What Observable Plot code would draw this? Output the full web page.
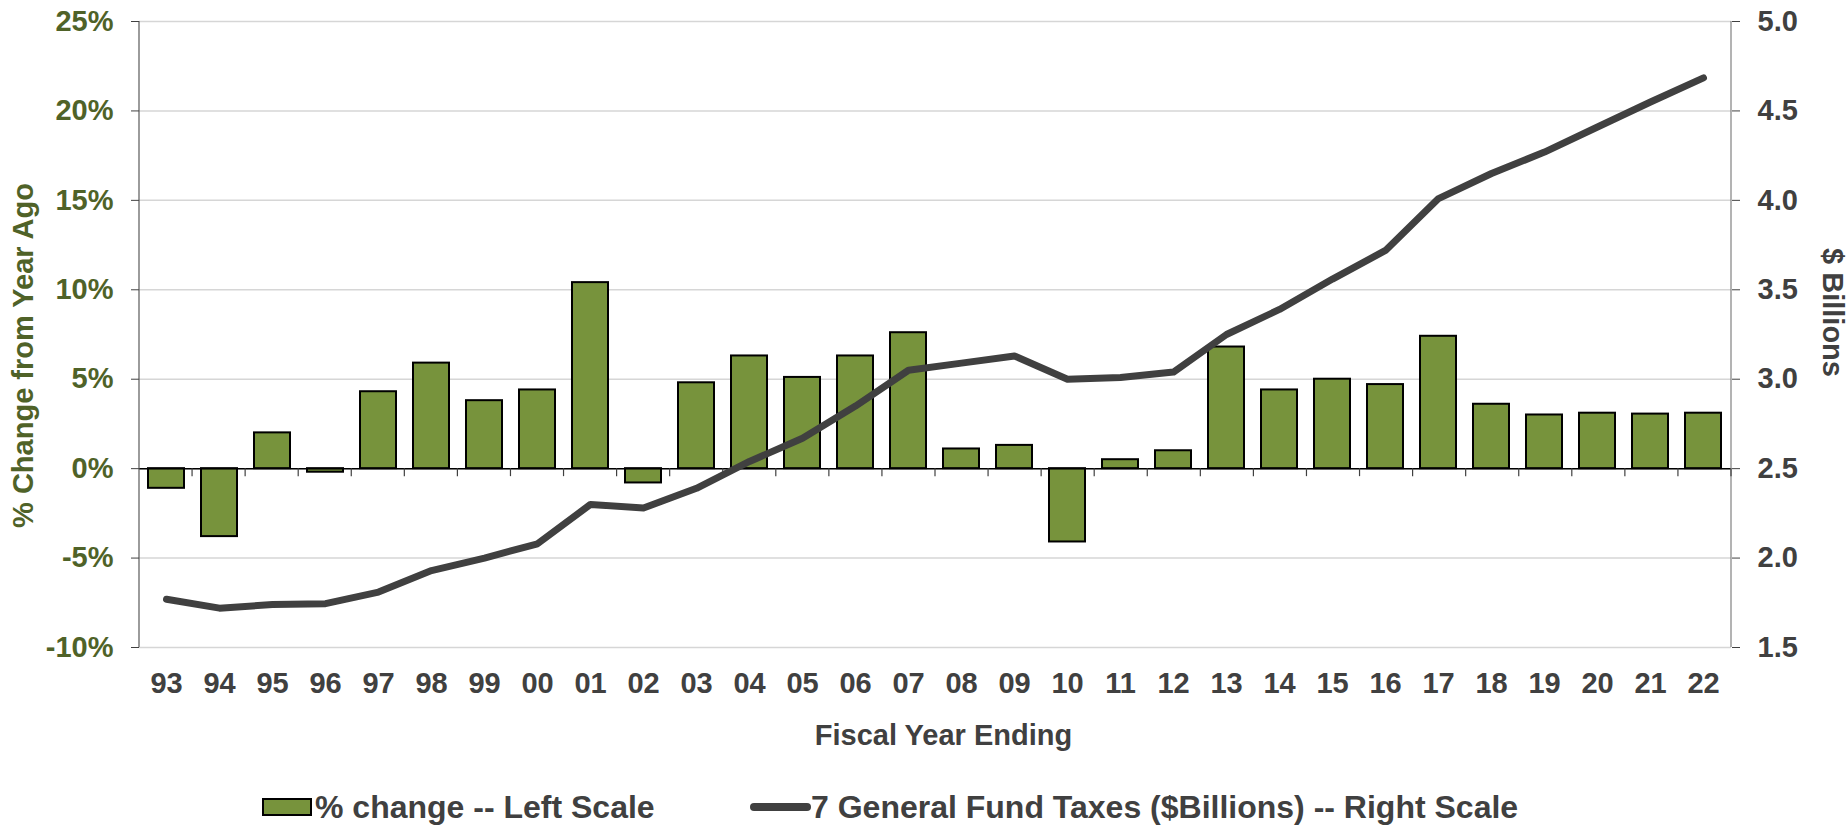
<!DOCTYPE html>
<html><head><meta charset="utf-8">
<script src="https://cdn.jsdelivr.net/npm/d3@7"></script>
<script src="https://cdn.jsdelivr.net/npm/@observablehq/plot@0.6"></script>
<style>
body{margin:0;background:#fff;font-family:"Liberation Sans",Arial,sans-serif;}
#legend{position:relative;height:65px;font-weight:bold;font-size:32px;color:#404040;}
#legend .item{position:absolute;top:22px;height:50px;display:flex;align-items:center;white-space:nowrap;}
#legend .bar{width:46px;height:14px;background:#77933C;border:2px solid #000;margin-right:3px;}
#legend .line{width:61px;height:8px;border-radius:4px;background:#404040;margin-right:0;}
</style></head><body>
<div id="chart"></div><div id="legend"></div>
<script>
const years = ["93","94","95","96","97","98","99","00","01","02","03","04","05","06","07","08","09","10","11","12","13","14","15","16","17","18","19","20","21","22"];
const pctChange = [-1.1,-3.8,2.0,-0.2,4.3,5.9,3.8,4.4,10.4,-0.8,4.8,6.3,5.1,6.3,7.6,1.1,1.3,-4.1,0.5,1.0,6.8,4.4,5.0,4.7,7.4,3.6,3.0,3.1,3.05,3.1];
const taxes = [1.77,1.72,1.74,1.745,1.81,1.93,2.0,2.08,2.30,2.28,2.39,2.54,2.67,2.85,3.05,3.09,3.13,3.0,3.01,3.04,3.25,3.39,3.56,3.72,4.01,4.15,4.27,4.41,4.55,4.685];
const leftTicks = [-10,-5,0,5,10,15,20,25];
const rightTicks = [1.5,2.0,2.5,3.0,3.5,4.0,4.5,5.0];
const seriesNames = ["% change -- Left Scale","7 General Fund Taxes ($Billions) -- Right Scale"];
const xTitle = "Fiscal Year Ending";
const leftTitle = "% Change from Year Ago";
const rightTitle = "$ Billions";

const toLeft = d3.scaleLinear().domain([1.5,5.0]).range([-10,25]);
const rows = years.map((yr,i)=>({yr, pct:pctChange[i], taxL:toLeft(taxes[i])}));

const W=1848,H=760,ML=139,MR=117,MT=21,MB=113;

function frameLines(index, scales, values, dims){
  const g = d3.create("svg:g");
  const x0 = dims.marginLeft, x1 = dims.width - dims.marginRight;
  const y0 = dims.marginTop, y1 = dims.height - dims.marginBottom;
  g.append("line").attr("x1",x0).attr("x2",x0).attr("y1",y0).attr("y2",y1).attr("stroke","#595959").attr("stroke-width",1.2);
  g.append("line").attr("x1",x1).attr("x2",x1).attr("y1",y0).attr("y2",y1).attr("stroke","#808080").attr("stroke-width",1.2);
  const step = (x1-x0)/years.length;
  const yz = scales.y(0);
  for(let k=1;k<=years.length;k++){
    const xx = x0 + k*step;
    g.append("line").attr("x1",xx).attr("x2",xx).attr("y1",yz).attr("y2",yz+8).attr("stroke","#404040").attr("stroke-width",1.2);
  }
  return g.node();
}

const chart = Plot.plot({
  width:W,height:H,marginLeft:ML,marginRight:MR,marginTop:MT,marginBottom:MB,
  style:{fontFamily:"'Liberation Sans', Arial, sans-serif",fontSize:"29px",fontWeight:"bold",background:"#fff",overflow:"visible"},
  x:{type:"band",domain:years,paddingInner:0.32,paddingOuter:0.16,axis:null,label:null},
  y:{domain:[-10,25],axis:null,label:null},
  marks:[
    Plot.gridY(leftTicks,{stroke:"#d6d6d6",strokeOpacity:1,strokeWidth:1.5}),
    Plot.barY(rows,{x:"yr",y:"pct",fill:"#77933C",stroke:"#000",strokeWidth:2}),
    Plot.ruleY([0],{stroke:"#000",strokeWidth:1.5}),
    frameLines,
    Plot.line(rows,{x:"yr",y:"taxL",stroke:"#404040",strokeWidth:7,strokeLinecap:"round",strokeLinejoin:"round"}),
    Plot.axisY(leftTicks,{anchor:"left",label:null,tickSize:8,tickPadding:18,tickFormat:d=>d+"%",fill:"#4F6228",stroke:"#404040"}),
    Plot.axisY(rightTicks.map(toLeft),{anchor:"right",label:null,tickSize:8,tickPadding:18,tickFormat:d=>d3.format(".1f")(toLeft.invert(d)),fill:"#404040",stroke:"#404040"}),
    Plot.axisX({anchor:"bottom",label:null,tickSize:0,tickPadding:25,fill:"#404040"}),
    Plot.text([leftTitle],{text:d=>d,frameAnchor:"left",textAnchor:"middle",lineAnchor:"middle",rotate:-90,dx:-116,dy:21,fill:"#4F6228"}),
    Plot.text([rightTitle],{text:d=>d,frameAnchor:"right",textAnchor:"middle",lineAnchor:"middle",rotate:90,dx:101,dy:-22,fill:"#404040"}),
    Plot.text([xTitle],{text:d=>d,frameAnchor:"bottom",textAnchor:"middle",lineAnchor:"middle",dx:8,dy:88,fill:"#404040"})
  ]
});
document.getElementById("chart").appendChild(chart);

const leg = document.getElementById("legend");
const legLeft = [262,750];
seriesNames.forEach((name,i)=>{
  const it = document.createElement("div");
  it.className="item"; it.style.left = legLeft[i]+"px";
  const sw = document.createElement("span"); sw.className = i===0 ? "bar" : "line";
  const tx = document.createElement("span"); tx.textContent = name;
  it.appendChild(sw); it.appendChild(tx); leg.appendChild(it);
});
</script>
</body></html>
